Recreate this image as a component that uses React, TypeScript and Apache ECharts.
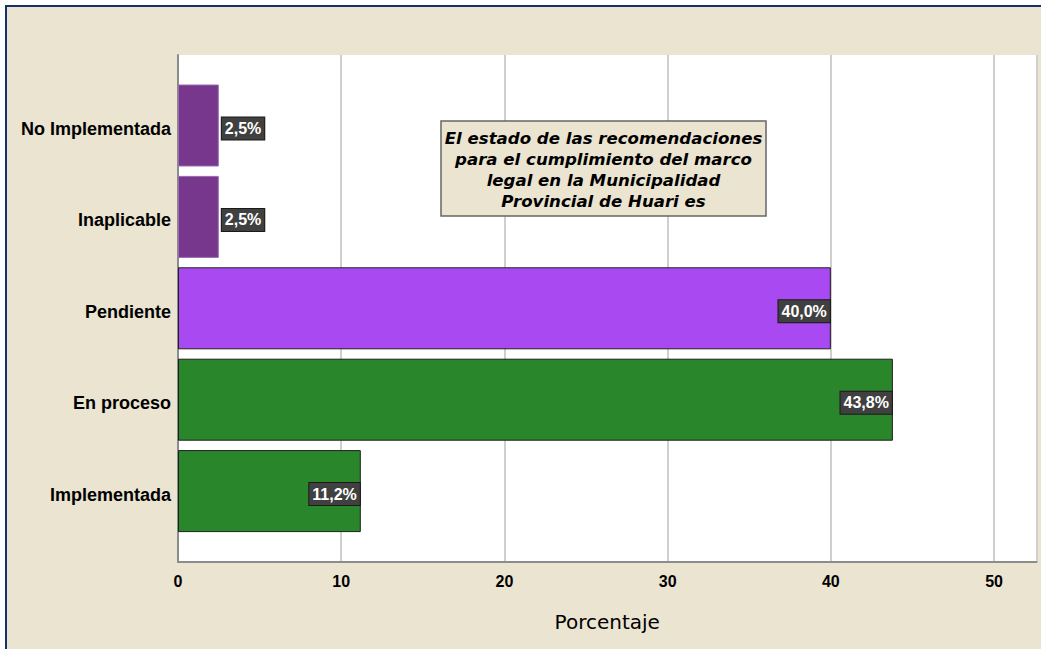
import React, { useEffect, useRef } from "react";
import * as echarts from "echarts";

const categories = ["No Implementada", "Inaplicable", "Pendiente", "En proceso", "Implementada"];
const values = [2.5, 2.5, 40.0, 43.8, 11.2];
const barColors = ["#77378C", "#77378C", "#A849F2", "#2A862A", "#2A862A"];
const xTicks = [0, 10, 20, 30, 40, 50];
const annotation = "El estado de las recomendaciones\npara el cumplimiento del marco\nlegal en la Municipalidad\nProvincial de Huari es";

const FONT = "'Liberation Sans', Arial, sans-serif";
const WIDE = "'DejaVu Sans', Verdana, sans-serif";

export default function App() {
  const ref = useRef<HTMLDivElement>(null);
  useEffect(() => {
    if (!ref.current) return;
    const chart = echarts.init(ref.current, undefined, { renderer: "svg" });
    const xMax = 52.6;
    chart.setOption({
      animation: false,
      backgroundColor: "transparent",
      textStyle: { fontFamily: FONT },
      grid: [
        { left: 178, top: 55, width: 858.5, height: 507, show: true, backgroundColor: "#FFFFFF", borderWidth: 0, containLabel: false },
        { left: 178, top: 79.8, width: 858.5, height: 457, containLabel: false },
      ],
      xAxis: [
        {
          gridIndex: 0,
          type: "value",
          min: xTicks[0],
          max: xMax,
          interval: 10,
          axisLine: { show: true, lineStyle: { color: "#8C8C8C", width: 2 } },
          axisTick: { show: false },
          splitLine: { show: true, lineStyle: { color: "#CFCFCF", width: 2 } },
          axisLabel: { show: true, showMaxLabel: false, color: "#000", fontSize: 16, fontWeight: "bold", margin: 11, fontFamily: FONT },
          name: "Porcentaje",
          nameLocation: "middle",
          nameGap: 50,
          nameTextStyle: { color: "#000", fontSize: 20, fontFamily: WIDE },
        },
        { gridIndex: 1, type: "value", min: 0, max: xMax, show: false },
      ],
      yAxis: [
        {
          gridIndex: 0,
          type: "category",
          data: [""],
          axisLine: { show: true, lineStyle: { color: "#8C8C8C", width: 2 } },
          axisTick: { show: false },
          axisLabel: { show: false },
          splitLine: { show: false },
        },
        {
          gridIndex: 1,
          type: "category",
          inverse: true,
          data: categories,
          axisLine: { show: false },
          axisTick: { show: false },
          axisLabel: {
            margin: 7,
            formatter: (v: string) => "{a|" + v + "}",
            rich: {
              a: { color: "#000", fontSize: 18, fontWeight: "bold", fontFamily: FONT, padding: [7, 0, 0, 0] },
            },
          },
        },
      ],
      series: [
        {
          type: "bar",
          xAxisIndex: 1,
          yAxisIndex: 1,
          barWidth: 82,
          data: values.map((v, i) => ({
            value: v,
            itemStyle: {
              color: barColors[i],
              borderColor: v < 5 ? "#9A6BAE" : "#1E1E1E",
              borderWidth: 1,
            },
            label: v < 5 ? { position: "right", distance: 3 } : { position: "insideRight", distance: 1 },
          })),
          label: {
            show: true,
            formatter: (p: any) => p.value.toFixed(1).replace(".", ",") + "%",
            color: "#FFFFFF",
            fontSize: 16,
            fontWeight: "bold",
            fontFamily: FONT,
            backgroundColor: "#404040",
            borderColor: "#1A1A1A",
            borderWidth: 1,
            padding: [3, 3, 3, 3],
            offset: [0, 3],
          },
        },
      ],
      graphic: [
        {
          type: "rect",
          shape: { x: 441, y: 121, width: 325, height: 95 },
          style: { fill: "#EBE4D0", stroke: "#666666", lineWidth: 1.5 },
          z: 10,
        },
        {
          type: "text",
          x: 603.5,
          y: 169.5,
          z: 11,
          style: {
            text: annotation,
            align: "center",
            verticalAlign: "middle",
            fill: "#000",
            font: `italic bold 16.6px ${WIDE}`,
            lineHeight: 21,
          },
        },
      ],
    });
    return () => chart.dispose();
  }, []);

  return (
    <div style={{ position: "fixed", left: 0, top: 0, width: 1041, height: 649, background: "#FFFFFF", overflow: "hidden" }}>
      <div
        style={{
          position: "absolute",
          left: 5,
          top: 5,
          width: 1100,
          height: 700,
          border: "2px solid #14306F",
          background: "#EBE4D0",
        }}
      />
      <div ref={ref} style={{ position: "absolute", left: 0, top: 0, width: 1041, height: 649 }} />
    </div>
  );
}
